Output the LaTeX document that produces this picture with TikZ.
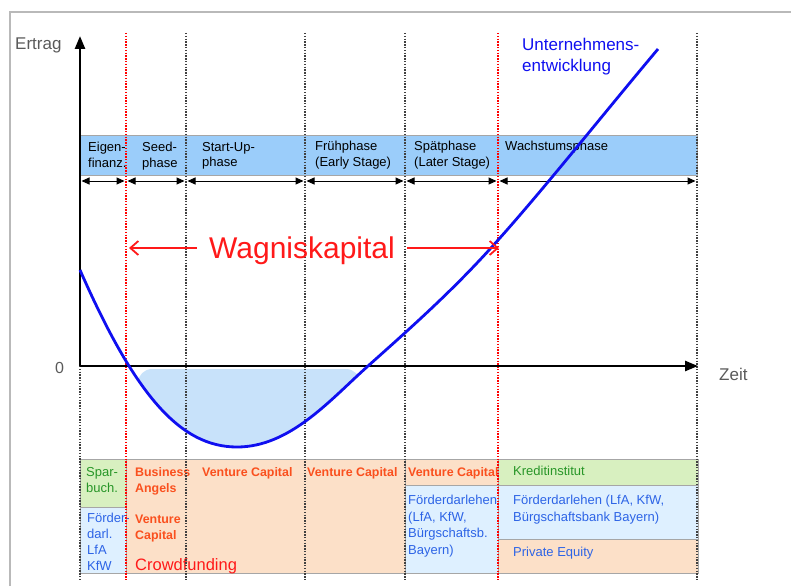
\documentclass[tikz,border=0pt]{standalone}
\usepackage{fontspec}
\setmainfont{Liberation Sans}
\usetikzlibrary{positioning,arrows.meta}

\definecolor{bandblue}{RGB}{155,205,250}
\definecolor{shadeblue}{RGB}{200,226,250}
\definecolor{cellorange}{RGB}{252,224,200}
\definecolor{cellgreen}{RGB}{216,240,192}
\definecolor{cellblue}{RGB}{222,240,255}
\definecolor{txtorange}{RGB}{250,80,30}
\definecolor{txtgreen}{RGB}{40,150,40}
\definecolor{txtblue}{RGB}{45,100,230}
\definecolor{txtred}{RGB}{255,25,25}
\definecolor{curveblue}{RGB}{15,15,240}
\definecolor{labelgray}{RGB}{90,90,90}

\begin{document}
\begin{tikzpicture}[x=1pt, y=-1pt,
            >={Triangle[length=8pt,width=7pt]},
            band/.style={draw=gray!70, line width=1pt, fill=bandblue},
            cell/.style={draw=gray!70, line width=1pt},
            phase/.style={anchor=north west, inner sep=0pt, align=left, font=\fontsize{13}{15.5}\selectfont},
            fin/.style={anchor=north west, inner sep=0pt, align=left, font=\fontsize{13}{16}\selectfont},
            divider/.style={line width=1.4pt, dash pattern=on 1.4pt off 1.4pt},
            axis/.style={-{Triangle[length=13pt,width=10pt]}, line width=2.5pt},
            wkarrow/.style={-{Straight Barb[length=8pt,width=14pt]}, line width=1.8pt, txtred},
            curve/.style={line width=2.8pt, curveblue}
        ]
        \useasboundingbox (0,0) rectangle (791,586);

        % Frame
        \draw[gray!55, line width=1.5pt] (10,586) -- (10,12) -- (791,12);

        % Phase band
        \draw[band] (80,135) rectangle (697,175);
        \node[phase] (eigen) at (88,142) {Eigen-\\finanz.};
        \node[phase] (seed) at (142,142) {Seed-\\phase};
        \node[phase] (startup) at (202,142) {Start-Up-\\phase};
        \node[phase] (frueh) at (315,141) {Frühphase\\(Early Stage)};
        \node[phase] (spaet) at (414,141) {Spätphase\\(Later Stage)};
        \node[phase] (wachstum) at (505,141) {Wachstumsphase};

        % Phase arrows
        \foreach \n/\x in {0/80,1/126,2/186,3/305,4/405,5/498,6/697}
            \coordinate (p\n) at (\x,181);
        \foreach \a/\b in {0/1,1/2,2/3,3/4,4/5,5/6}
            \draw[<->, line width=1pt, shorten <=1.5pt, shorten >=1.5pt] (p\a) -- (p\b);

        % Financing table
        \draw[cell, fill=cellgreen] (80,459) rectangle (126,507);
        \draw[cell, fill=cellblue] (80,507) rectangle (126,573);
        \draw[cell, fill=cellorange] (126,459) rectangle (405,573);
        \draw[cell, fill=cellorange] (405,459) rectangle (498,485);
        \draw[cell, fill=cellblue] (405,485) rectangle (498,573);
        \draw[cell, fill=cellgreen] (498,459) rectangle (698,485);
        \draw[cell, fill=cellblue] (498,485) rectangle (698,539);
        \draw[cell, fill=cellorange] (498,539) rectangle (698,573);

        \node[fin, txtgreen] (spar) at (86,467) {Spar-\\buch.};
        \node[fin, txtblue] (foerderl) at (87,513) {Förder-\\darl.\\LfA\\KfW};
        \node[fin, txtorange, font=\bfseries\fontsize{12.4}{16}\selectfont] (business) at (135,467) {Business\\Angels};
        \node[fin, txtorange, font=\bfseries\fontsize{12.4}{16}\selectfont] (vcseed) at (135,515) {Venture\\Capital};
        \node[fin, txtred, font=\fontsize{16.5}{18}\selectfont] (crowd) at (135,558) {Crowdfunding};
        \node[fin, txtorange, font=\bfseries\fontsize{12.4}{16}\selectfont] (vcstart) at (202,467) {Venture Capital};
        \node[fin, txtorange, font=\bfseries\fontsize{12.4}{16}\selectfont] (vcfrueh) at (307,467) {Venture Capital};
        \node[fin, txtorange, font=\bfseries\fontsize{12.4}{16}\selectfont] (vcspaet) at (408,467) {Venture Capital};
        \node[fin, txtblue, font=\fontsize{13}{16.5}\selectfont] (foerderm) at (408,495) {Förderdarlehen\\(LfA, KfW,\\Bürgschaftsb.\\Bayern)};
        \node[fin, txtgreen] (kredit) at (513,466) {Kreditinstitut};
        \node[fin, txtblue, font=\fontsize{13}{17}\selectfont] (foerderr) at (513,495) {Förderdarlehen (LfA, KfW,\\Bürgschaftsbank Bayern)};
        \node[fin, txtblue] (equity) at (513,547) {Private Equity};

        % Loss area below the time axis
        \begin{scope}
            \clip (80,0) -- (80,270) .. controls (135,395) and (180,447) .. (237,447)
                .. controls (290,447) and (330,400) .. (368,366)
                .. controls (410,328.5) and (450,293) .. (490,249)
                .. controls (540,194) and (600,118) .. (658,49) -- (658,0) -- cycle;
            \fill[shadeblue, rounded corners=14pt] (138,369) rectangle (360,470);
        \end{scope}

        % Phase dividers
        \foreach \x in {186,305,405,697}
            \draw[divider, black!75] (\x,33) -- (\x,580);
        \draw[divider, black!75] (80,366) -- (80,580);
        \foreach \x in {126,498}
            \draw[divider, red] (\x,33) -- (\x,580);

        % Axes
        \coordinate (origin) at (80,366);
        \coordinate (ytip) at (80,36);
        \coordinate (xtip) at (698,366);
        \draw[axis] (origin) -- (ytip);
        \draw[axis] (origin) -- (xtip);
        \node[anchor=north west, inner sep=0pt, labelgray, font=\fontsize{17}{20}\selectfont] (ertrag) at (15,37.5) {Ertrag};
        \node[inner sep=0pt, labelgray, font=\fontsize{16}{18}\selectfont] (zero) at (59.5,368) {0};
        \node[anchor=west, inner sep=0pt, labelgray, font=\fontsize{17}{20}\selectfont] (zeit) at (719,374) {Zeit};

        % Company development
        \draw[curve] (80,270) .. controls (135,395) and (180,447) .. (237,447)
            .. controls (290,447) and (330,400) .. (368,366)
            .. controls (410,328.5) and (450,293) .. (490,249)
            .. controls (540,194) and (600,118) .. (658,49);
        \node[anchor=north west, inner sep=0pt, align=left, curveblue, font=\fontsize{17}{21}\selectfont] (unt) at (522,37.5) {Unternehmens-\\entwicklung};

        % Venture capital span
        \node[txtred, inner xsep=12pt, inner ysep=0pt, text height=21pt, text depth=0pt, font=\fontsize{30}{34}\selectfont] (wagnis) at (302,248) {Wagniskapital};
        \coordinate (wkl) at (129,248);
        \coordinate (wkr) at (499,248);
        \draw[wkarrow] (wagnis) -- (wkl);
        \draw[wkarrow] (wagnis) -- (wkr);

        \end{tikzpicture}
\end{document}
